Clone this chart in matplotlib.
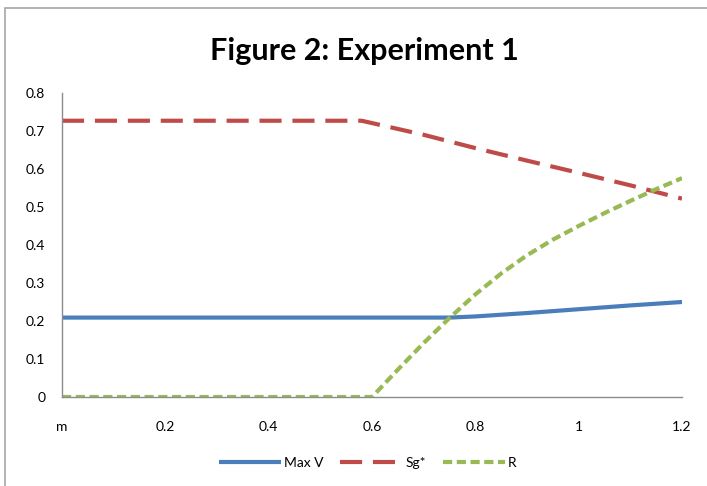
import matplotlib.pyplot as plt
from matplotlib.patches import Rectangle

# values
maxv_x = [0, 0.2, 0.4, 0.6, 0.75, 0.8, 0.9, 1.0, 1.1, 1.2]
maxv_y = [0.209, 0.209, 0.209, 0.209, 0.209, 0.212, 0.221, 0.231, 0.241, 0.25]

sg_x = [0, 0.2, 0.4, 0.58, 0.7, 0.8, 0.9, 1.0, 1.1, 1.2]
sg_y = [0.727, 0.727, 0.727, 0.727, 0.69, 0.655, 0.622, 0.59, 0.557, 0.522]

r_x = [0, 0.2, 0.4, 0.6, 0.65, 0.7, 0.75, 0.8, 0.85, 0.9, 0.95, 1.0, 1.05, 1.1, 1.15, 1.2]
r_y = [0, 0, 0, 0, 0.072, 0.142, 0.208, 0.27, 0.325, 0.373, 0.414, 0.45, 0.484, 0.516, 0.547, 0.576]

xticks = [0, 0.2, 0.4, 0.6, 0.8, 1.0, 1.2]
xlabels = ['m', '0.2', '0.4', '0.6', '0.8', '1', '1.2']
yticks = [0, 0.1, 0.2, 0.3, 0.4, 0.5, 0.6, 0.7, 0.8]

plt.rcParams['font.family'] = ['Lato', 'DejaVu Sans']

fig = plt.figure(figsize=(7.07, 4.86), dpi=100)
fig.patches.append(Rectangle((5 / 707, -0.1), 1.2, 1.1 - 8 / 486,
                             transform=fig.transFigure, fill=False,
                             edgecolor='#a6a6a6', linewidth=1.2))

ax = fig.add_axes([62 / 707, 1 - 397 / 486, 620 / 707, 304 / 486])

ax.plot(maxv_x, maxv_y, color='#4A7EBB', lw=3, solid_capstyle='butt', label='Max V')
ax.plot(sg_x, sg_y, color='#BE4B48', lw=3, dashes=(5.3, 2.6), dash_capstyle='butt', label='Sg*')
ax.plot(r_x, r_y, color='#98B954', lw=3, dashes=(2.2, 1.1), dash_capstyle='butt', label='R')

ax.set_xlim(0, 1.2)
ax.set_ylim(0, 0.8)
ax.set_xticks(xticks)
ax.set_xticklabels(xlabels)
ax.set_yticks(yticks)
ax.set_yticklabels([f'{v:g}' for v in yticks])
ax.tick_params(length=0, labelsize=10, colors='black')
ax.tick_params(axis='x', pad=17)
ax.tick_params(axis='y', pad=12)
for s in ['top', 'right']:
    ax.spines[s].set_visible(False)
for s in ['left', 'bottom']:
    ax.spines[s].set_color('#8c8c8c')
    ax.spines[s].set_linewidth(1)

fig.text(0.515, 1 - 51 / 486, 'Figure 2: Experiment 1', ha='center', va='center',
         fontsize=22, fontweight='bold')

fig.legend(loc='center', bbox_to_anchor=(0.52, 1 - 463 / 486), ncol=3, frameon=False,
           fontsize=10, handlelength=4.5, handletextpad=0.2, columnspacing=1.2)

fig.savefig('out.png', dpi=100)
